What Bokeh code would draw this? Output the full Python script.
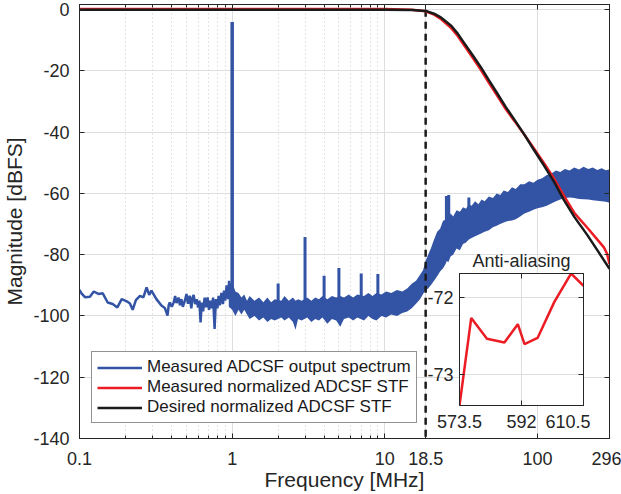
from bokeh.plotting import figure
from bokeh.models import (Range1d, FixedTicker, LinearAxis, LogAxis, Legend,
                          LegendItem, CustomJSTickFormatter)
from bokeh.layouts import column
from bokeh.embed import file_html
from bokeh.resources import INLINE

FONT = "Liberation Sans"
INK = "#262626"
BLUE = "#3354A5"
RED = "#EC1C24"
BLACK = "#1A1A1A"

# ---------------- data ----------------
x_ticks = [0.1, 1, 10, 18.5, 100, 296]
x_tick_labels = ["0.1", "1", "10", "18.5", "100", "296"]
x_minor_ticks = [0.2, 0.3, 0.4, 0.5, 0.6, 0.7, 0.8, 0.9, 2, 3, 4, 5, 6, 7, 8, 9]
y_ticks = [-140, -120, -100, -80, -60, -40, -20, 0]
y_tick_labels = ["-140", "-120", "-100", "-80", "-60", "-40", "-20", "0"]

# measured spectrum, low-frequency trace (MHz, dBFS)
blue_lf_f = [0.100, 0.103, 0.109, 0.117, 0.124, 0.133, 0.142, 0.153, 0.165, 0.177,
             0.189, 0.204, 0.214, 0.223, 0.234, 0.249, 0.262, 0.275, 0.286, 0.296,
             0.319, 0.344, 0.362, 0.372, 0.377, 0.384, 0.390, 0.402, 0.414, 0.423,
             0.432, 0.445, 0.455, 0.465, 0.475, 0.490, 0.502, 0.514, 0.527, 0.540,
             0.550, 0.559, 0.572, 0.585, 0.598, 0.610, 0.621, 0.632, 0.645, 0.660,
             0.675, 0.690, 0.705, 0.720, 0.735, 0.750, 0.767, 0.782, 0.800, 0.815,
             0.830, 0.850, 0.870, 0.885, 0.900, 0.920, 0.940, 0.955, 0.970, 0.985]
blue_lf_db = [-91.5, -92.6, -93.9, -93.7, -92.0, -92.8, -92.6, -95.6, -96.1, -97.2,
              -94.5, -95.2, -95.9, -98.0, -94.8, -93.4, -93.9, -90.7, -93.1, -91.7,
              -94.5, -96.6, -97.4, -99.0, -99.9, -96.5, -95.6, -97.0, -95.6, -93.5,
              -95.8, -94.0, -96.5, -94.5, -97.0, -95.0, -92.8, -96.0, -93.4, -97.5,
              -94.0, -93.1, -96.1, -94.5, -97.2, -95.0, -102.1, -95.6, -98.5, -94.0,
              -97.2, -93.9, -98.0, -95.0, -97.5, -94.0, -104.2, -94.5, -97.5, -93.4,
              -96.5, -92.5, -96.1, -91.7, -95.0, -90.0, -94.5, -88.5, -93.0, -91.0]

# measured spectrum, dense region: upper / lower envelope
band_f = [0.95, 1.0, 1.05, 1.1, 1.15, 1.2, 1.25, 1.3, 1.4, 1.5,
          1.6, 1.7, 1.8, 1.9, 2.1, 2.2, 2.35, 2.5, 2.6, 2.7,
          2.85, 3.1, 3.3, 3.5, 3.7, 3.9, 4.2, 4.5, 4.8, 5.1,
          5.4, 5.8, 6.2, 6.6, 7.3, 7.8, 8.3, 8.8, 9.5, 10.2,
          11, 12, 13, 14, 15, 16, 17, 17.8, 18.5,
          19.2, 20, 21, 22, 23, 24, 25, 25.5, 26, 27,
          28, 29.5, 31, 32.5, 34, 35.5, 37, 39, 41, 43,
          45, 48, 51, 54, 57, 60, 64, 68, 72, 77,
          82, 88, 94, 100, 107, 115, 123, 132, 141, 151,
          162, 174, 187, 200, 215, 230, 246, 263, 280, 296]
band_hi = [-90, -89, -92, -92.5, -94, -93, -95, -93.5, -95, -94,
           -95.5, -94, -95.5, -94.5, -95, -93.5, -95, -94, -95, -94.5,
           -95, -94, -95, -94, -94.5, -93.5, -94.5, -93.5, -94, -93.5,
           -94, -93, -94, -93, -93.5, -92.5, -93.5, -92.5, -93, -92,
           -92.5, -91.5, -92, -91, -89.5, -88.5, -86.5, -85, -82,
           -80, -78, -75, -72.5, -71.5, -69, -68.5, -67, -68, -66.5,
           -67.5, -65.5, -66, -64.5, -65, -63.5, -64, -62.5, -63.5, -62,
           -62.5, -61, -61.5, -60, -60.5, -59, -59.5, -58, -58.5, -57,
           -57, -56, -56.5, -55.5, -55, -54, -53.5, -52.5, -53, -52,
           -52.5, -51.5, -52.2, -51.3, -52, -51.5, -52.3, -51.8, -52.4, -52.2]
band_lo = [-97, -98, -100, -98, -99.5, -98, -99.5, -101, -100, -101.5,
           -100.5, -102, -101, -101.5, -100.5, -101.5, -100.5, -102, -104.5, -101,
           -101.5, -100.5, -102, -101, -101.5, -100.5, -102.5, -101, -101.5, -103.5,
           -101, -100.5, -101.5, -100.5, -101.5, -100, -101, -101.5, -100, -100.5,
           -99.5, -100, -99, -98.5, -97.5, -96, -94.5, -92.8, -91.5,
           -91, -90, -88.5, -87, -85.5, -84.5, -83, -82, -82.5, -80.5,
           -80, -78, -78.5, -76.5, -76, -75, -74.5, -74, -73.5, -73,
           -72.5, -72, -71, -70.5, -70, -69.5, -69, -68.8, -68.4, -67.5,
           -66.5, -66, -65.3, -64.8, -64.5, -64, -63.3, -62.5, -62, -61.5,
           -61.3, -61.5, -61.8, -61.9, -62, -62.2, -62.4, -62.5, -62.7, -63]

# test tone and harmonics / spurs
tone_f = [1.0]
tone_db = [-4.0]
tone_floor = [-97.0]
spur_f = [2.0, 3.0, 4.0, 5.0, 7.0, 9.0, 25.3, 26.2, 35.5]
spur_top = [-89.4, -74.2, -86.9, -84.3, -86.1, -86.3, -60.8, -60.5, -61.3]
spur_floor = [-97, -97, -97, -97, -97, -97, -80, -80, -72]

# STF curves
black_f = [0.1, 10, 15, 18.5, 21, 23.4, 27.3, 30, 33.2, 38, 42.7, 48, 54.9, 62,
           70.5, 82, 95, 110, 128.5, 149, 175, 212, 250, 296]
black_db = [0.0, 0.0, -0.1, -0.4, -1.3, -2.6, -5.3, -7.8, -11.0, -15.2, -18.9, -23.0,
            -27.6, -31.8, -35.9, -40.8, -45.9, -50.8, -56.2, -62.2, -67.8, -73.6,
            -79.0, -84.6]
red_f = [0.1, 10, 15, 18.5, 21, 23.4, 27.3, 30, 33.2, 38, 42.7, 48, 54.9, 62,
         70.5, 82, 95, 110, 128.5, 149, 175, 212, 245, 272, 285, 296]
red_db = [0.2, 0.2, 0.0, -0.5, -1.6, -3.1, -6.1, -8.6, -11.8, -16.0, -19.8, -23.9,
          -28.4, -32.5, -36.3, -40.8, -45.4, -50.0, -55.2, -60.8, -66.5, -71.2,
          -74.9, -77.6, -79.6, -83.0]

cutoff_f = [18.5, 18.5]
cutoff_db = [0, -140]

legend_labels = ["Measured ADCSF output spectrum",
                 "Measured normalized ADCSF STF",
                 "Desired normalized ADCSF STF"]

# inset (anti-aliasing)
inset_title = "Anti-aliasing"
inset_f = [573.5, 577.0, 581.7, 586.9, 590.9, 592.9, 596.8, 601.8, 606.8, 610.5]
inset_db = [-73.41, -72.27, -72.54, -72.59, -72.35, -72.61, -72.53, -72.06, -71.69, -71.85]
inset_x_ticks = [573.5, 592, 610.5]
inset_x_labels = ["573.5", "592", "610.5"]
inset_y_ticks = [-73, -72]
inset_y_labels = ["-73", "-72"]

EMPTY = CustomJSTickFormatter(code="return ''")


def style_axis(ax, size="18px", standoff=8):
    ax.major_tick_in = 5
    ax.major_tick_out = 0
    ax.minor_tick_in = 3
    ax.minor_tick_out = 0
    ax.axis_line_color = INK
    ax.major_tick_line_color = INK
    ax.minor_tick_line_color = INK
    ax.major_label_text_font = FONT
    ax.major_label_text_font_size = size
    ax.major_label_text_color = INK
    ax.major_label_standoff = standoff
    ax.axis_label_text_font = FONT
    ax.axis_label_text_font_style = "normal"
    ax.axis_label_text_color = INK
    ax.axis_label_text_font_size = "21px"


# ---------------- main figure ----------------
p = figure(width=621, height=494, x_axis_type="log",
           x_range=Range1d(0.1, 296), y_range=Range1d(-140, 1.7),
           output_backend="svg", toolbar_location=None,
           min_border_left=77, min_border_right=12,
           min_border_top=4, min_border_bottom=56)
p.frame_align = False
p.background_fill_color = "white"
p.border_fill_color = "white"
p.outline_line_color = INK
p.outline_line_width = 1

xt = FixedTicker(ticks=x_ticks, minor_ticks=x_minor_ticks)
yt = FixedTicker(ticks=y_ticks)
p.xaxis[0].ticker = xt
p.yaxis[0].ticker = yt
p.xaxis[0].major_label_overrides = dict(zip(x_ticks, x_tick_labels))
p.yaxis[0].major_label_overrides = dict(zip(y_ticks, y_tick_labels))
p.xaxis[0].axis_label = "Frequency [MHz]"
p.yaxis[0].axis_label = "Magnitude [dBFS]"
style_axis(p.xaxis[0], standoff=13)
style_axis(p.yaxis[0], standoff=10)
p.xaxis[0].axis_label_standoff = 0
p.yaxis[0].axis_label_standoff = 4

top_ax = LogAxis(ticker=FixedTicker(ticks=x_ticks, minor_ticks=x_minor_ticks), formatter=EMPTY)
style_axis(top_ax, size="1px", standoff=0)
right_ax = LinearAxis(ticker=FixedTicker(ticks=y_ticks), formatter=EMPTY)
style_axis(right_ax, size="1px", standoff=0)
p.add_layout(top_ax, "above")
p.add_layout(right_ax, "right")

p.xgrid.grid_line_color = "#dedede"
p.xgrid.minor_grid_line_color = "#c8c8c8"
p.xgrid.minor_grid_line_dash = "1 3"
p.ygrid.grid_line_color = "#dedede"

p.varea(x=band_f, y1=band_lo, y2=band_hi, fill_color=BLUE)
r_blue = p.line(blue_lf_f, blue_lf_db, line_color=BLUE, line_width=2.5)
p.segment(x0=spur_f, y0=spur_floor, x1=spur_f, y1=spur_top, line_color=BLUE, line_width=3)
p.segment(x0=tone_f, y0=tone_floor, x1=tone_f, y1=tone_db, line_color=BLUE, line_width=3.5)
p.line(cutoff_f, cutoff_db, line_color=BLACK, line_width=2.5, line_dash="7 5")
r_red = p.line(red_f, red_db, line_color=RED, line_width=2.5)
r_black = p.line(black_f, black_db, line_color=BLACK, line_width=2.5)

legend = Legend(items=[LegendItem(label=legend_labels[0], renderers=[r_blue]),
                       LegendItem(label=legend_labels[1], renderers=[r_red]),
                       LegendItem(label=legend_labels[2], renderers=[r_black])],
                location=(12, 15))
legend.border_line_color = INK
legend.border_line_width = 1
legend.background_fill_color = "white"
legend.background_fill_alpha = 1
legend.padding = 5
legend.spacing = 0
legend.margin = 0
legend.label_standoff = 5
legend.glyph_width = 45
legend.glyph_height = 19
legend.label_height = 19
legend.label_text_font = FONT
legend.label_text_font_size = "17px"
legend.label_text_color = "#1a1a1a"
p.add_layout(legend)

# ---------------- inset ----------------
q = figure(width=170, height=190, x_range=Range1d(573.5, 610.5),
           y_range=Range1d(-73.41, -71.69), title=inset_title,
           output_backend="svg", toolbar_location=None,
           min_border_left=39, min_border_right=7,
           min_border_top=27, min_border_bottom=30)
q.frame_align = False
q.border_fill_alpha = 0
q.background_fill_color = "white"
q.outline_line_color = INK
q.title.align = "center"
q.title.text_font = FONT
q.title.text_font_style = "normal"
q.title.text_font_size = "18px"
q.title.text_color = INK
q.title.standoff = 6
q.xaxis[0].ticker = FixedTicker(ticks=inset_x_ticks)
q.yaxis[0].ticker = FixedTicker(ticks=inset_y_ticks)
q.xaxis[0].major_label_overrides = dict(zip(inset_x_ticks, inset_x_labels))
q.yaxis[0].major_label_overrides = dict(zip(inset_y_ticks, inset_y_labels))
style_axis(q.xaxis[0], size="18px", standoff=9)
style_axis(q.yaxis[0], size="18px", standoff=6)
q_top = LinearAxis(ticker=FixedTicker(ticks=inset_x_ticks), formatter=EMPTY)
style_axis(q_top, size="1px", standoff=0)
q_right = LinearAxis(ticker=FixedTicker(ticks=inset_y_ticks), formatter=EMPTY)
style_axis(q_right, size="1px", standoff=0)
q.add_layout(q_top, "above")
q.add_layout(q_right, "right")
q.xgrid.grid_line_color = "#dedede"
q.ygrid.grid_line_color = "#dedede"
q.line(inset_f, inset_db, line_color=RED, line_width=2.5)
q.margin = (-249, 0, 0, 420)

layout = column(p, q)
open("out.html", "w").write(file_html(layout, INLINE))
